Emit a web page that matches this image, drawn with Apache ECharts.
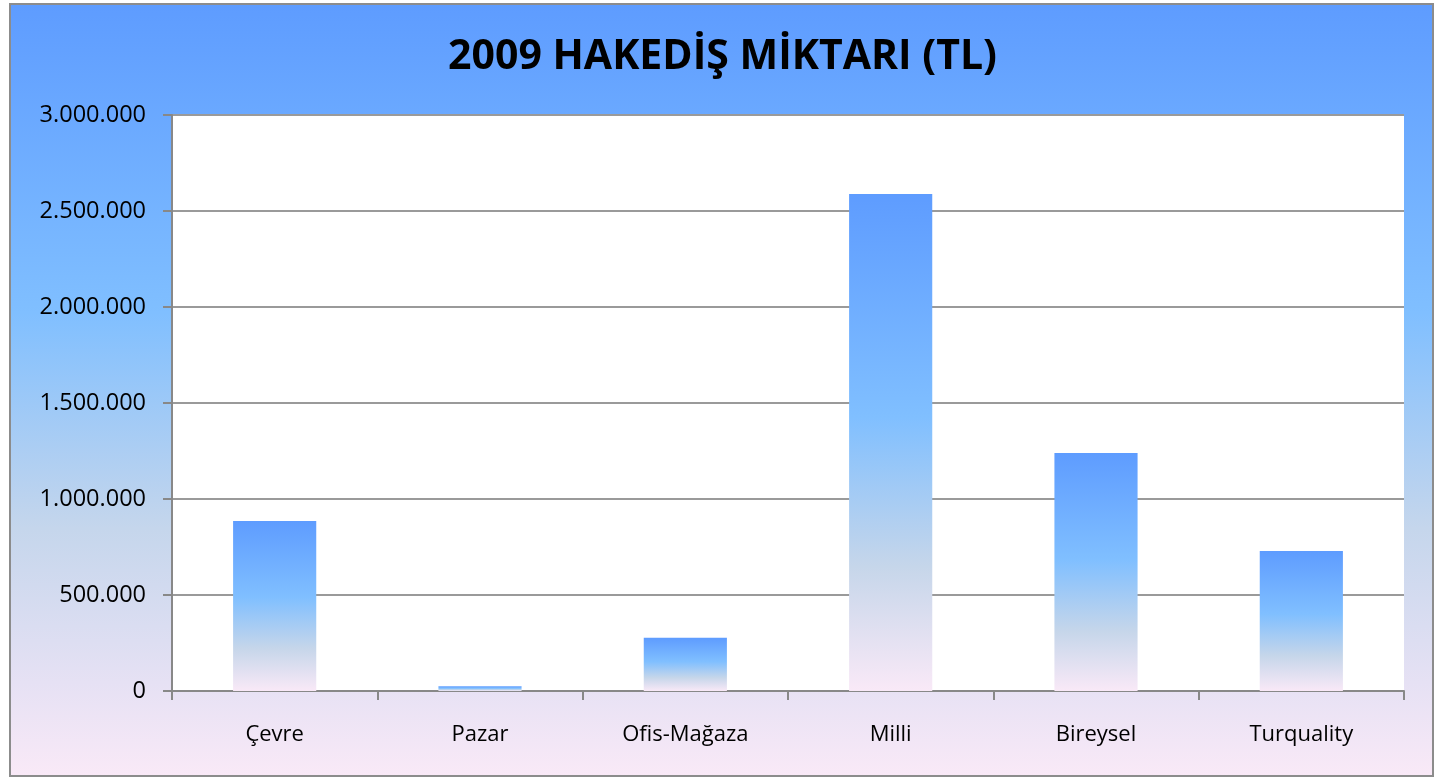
<!DOCTYPE html>
<html><head><meta charset="utf-8">
<script src="https://cdn.jsdelivr.net/npm/echarts@6/dist/echarts.min.js"></script>
<style>
html,body{margin:0;padding:0;background:#fff;width:1445px;height:778px;overflow:hidden;}
#bg{position:absolute;left:9px;top:3px;width:1421px;height:770px;border:2px solid #8c8c8c;
background:linear-gradient(to bottom,#5e9cff 0%,#80bfff 40%,#c5d6ec 68%,#e6e1f4 88%,#f9e9f7 100%);}
#chart{position:absolute;left:0;top:0;width:1445px;height:778px;}
</style></head>
<body><div id="bg"></div><div id="chart"></div>
<script>
const title = '2009 HAKEDİŞ MİKTARI (TL)';
const categories = ['Çevre','Pazar','Ofis-Mağaza','Milli','Bireysel','Turquality'];
const values = [885000, 25000, 277000, 2588000, 1240000, 729000];
const yTicks = [0, 500000, 1000000, 1500000, 2000000, 2500000, 3000000];

function fmt(v){ return String(v).replace(/\B(?=(\d{3})+(?!\d))/g,'.'); }

const chart = echarts.init(document.getElementById('chart'), null, {renderer:'canvas'});
const font = '"Open Sans", "Noto Sans", sans-serif';
chart.setOption({
  backgroundColor:'transparent',
  animation:false,
  title:{text:title,left:'center',top:32,textStyle:{fontFamily:font,fontWeight:'bold',fontSize:41,color:'#000'}},
  grid:{left:172,top:115,width:1232,height:576,show:true,backgroundColor:'#fff',borderWidth:0},
  xAxis:{type:'category',data:categories,
    axisLine:{lineStyle:{color:'#888',width:2}},
    axisTick:{show:true,alignWithLabel:false,length:9,lineStyle:{color:'#888',width:2}},
    axisLabel:{color:'#000',fontSize:22,fontFamily:font,margin:33}},
  yAxis:{type:'value',min:yTicks[0],max:yTicks[yTicks.length-1],interval:500000,
    axisLine:{show:true,lineStyle:{color:'#888',width:2}},
    axisTick:{show:true,length:9,lineStyle:{color:'#888',width:2}},
    splitLine:{lineStyle:{color:'#9a9a9a',width:2}},
    axisLabel:{color:'#000',fontSize:23.5,fontFamily:font,margin:26,formatter:fmt}},
  series:[{type:'bar',data:values,barWidth:'40.5%',
    itemStyle:{color:new echarts.graphic.LinearGradient(0,0,0,1,[
      {offset:0,color:'#5e9cff'},{offset:0.45,color:'#80bfff'},
      {offset:0.75,color:'#c6d6ea'},{offset:1,color:'#f9e9f7'}],false)}}]
});
</script></body></html>
